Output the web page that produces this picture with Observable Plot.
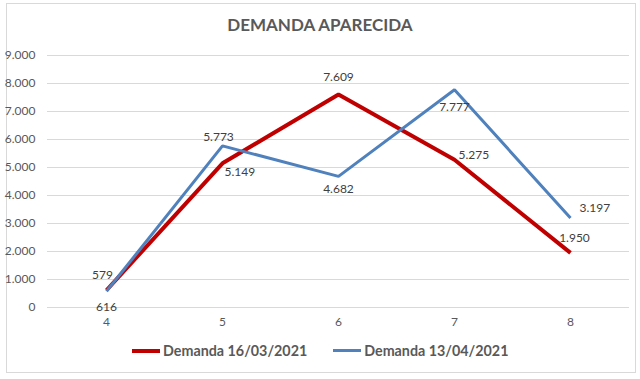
<!DOCTYPE html>
<html>
<head>
<meta charset="utf-8">
<script src="https://cdn.jsdelivr.net/npm/d3@7"></script>
<script src="https://cdn.jsdelivr.net/npm/@observablehq/plot@0.6"></script>
<style>
  html, body { margin: 0; padding: 0; background: #fff; }
  #wrap { position: relative; width: 640px; height: 379px; font-family: Lato, "Open Sans", sans-serif; }
  #border { position: absolute; left: 6px; top: 3px; width: 628px; height: 368px; border: 1px solid #d9d9d9; }
  #title { position: absolute; left: 0; width: 640px; top: 14px; text-align: center; font-weight: bold; font-size: 17px; color: #595959; }
  #legend { position: absolute; top: 342px; left: 132px; font-size: 14.3px; font-weight: bold; color: #595959; display: flex; align-items: center; }
  .sw { display: inline-block; width: 28px; height: 4px; margin-right: 3px; }
  #chart { position: absolute; left: 0; top: 0; }
</style>
</head>
<body>
<div id="wrap">
  <div id="border"></div>
  <div id="chart"></div>
  <div id="title">DEMANDA APARECIDA</div>
  <div id="legend"></div>
</div>
<script>
const categories = ["4", "5", "6", "7", "8"];
const seriesNames = ["Demanda 16/03/2021", "Demanda 13/04/2021"];
const valuesRed = [616, 5149, 7609, 5275, 1950];
const valuesBlue = [579, 5773, 4682, 7777, 3197];
const colors = ["#C00000", "#4F81BD"];
const yTicks = [0, 1000, 2000, 3000, 4000, 5000, 6000, 7000, 8000, 9000];

// label placement offsets (dx, dy, anchor) per point
const redLabelPos = [[0, 17, "middle"], [2, 9, "start"], [0, -17, "middle"], [4, -5, "start"], [4, -15, "middle"]];
const blueLabelPos = [[-4, -16, "middle"], [-4, -9, "middle"], [0, 13, "middle"], [0, 17, "middle"], [9, -10, "start"]];

const loc = d3.formatLocale({decimal: ",", thousands: ".", grouping: [3], currency: ["", ""]});
const fmt = loc.format(",d");

const red = categories.map((c, i) => ({x: c, y: valuesRed[i], dx: redLabelPos[i][0], dy: redLabelPos[i][1], a: redLabelPos[i][2]}));
const blue = categories.map((c, i) => ({x: c, y: valuesBlue[i], dx: blueLabelPos[i][0], dy: blueLabelPos[i][1], a: blueLabelPos[i][2]}));

const marks = [
  Plot.gridY(yTicks, {stroke: "#d9d9d9", strokeOpacity: 1, strokeWidth: 1}),
  Plot.axisY(yTicks, {tickSize: 0, tickPadding: 12, tickFormat: fmt, fontSize: 12, fill: "#595959", label: null}),
  Plot.axisX({tickSize: 0, tickPadding: 10, fontSize: 12, fill: "#595959", label: null}),
  Plot.line(red, {x: "x", y: "y", stroke: colors[0], strokeWidth: 4, strokeLinejoin: "miter", strokeLinecap: "butt"}),
  Plot.line(blue, {x: "x", y: "y", stroke: colors[1], strokeWidth: 3, strokeLinejoin: "miter", strokeLinecap: "butt"})
];
for (const data of [red, blue]) {
  for (const p of data) {
    marks.push(Plot.text([p], {x: "x", y: "y", text: d => fmt(d.y), dx: p.dx, dy: p.dy, textAnchor: p.a, fontSize: 12, fill: "#404040"}));
  }
}

const chart = Plot.plot({
  width: 640,
  height: 379,
  marginTop: 55,
  marginBottom: 72,
  marginLeft: 47,
  marginRight: 11,
  style: {fontFamily: "Lato, 'Open Sans', sans-serif", background: "transparent"},
  x: {type: "point", domain: categories, padding: 0.5},
  y: {domain: [0, 9000]},
  marks
});
document.getElementById("chart").appendChild(chart);

const legend = document.getElementById("legend");
seriesNames.forEach((n, i) => {
  const item = document.createElement("span");
  item.style.display = "inline-flex";
  item.style.alignItems = "center";
  item.style.marginRight = i === 0 ? "26px" : "0";
  const sw = document.createElement("span");
  sw.className = "sw";
  sw.style.background = colors[i];
  if (i === 1) sw.style.height = "3px";
  item.appendChild(sw);
  item.appendChild(document.createTextNode(n));
  legend.appendChild(item);
});
</script>
</body>
</html>
